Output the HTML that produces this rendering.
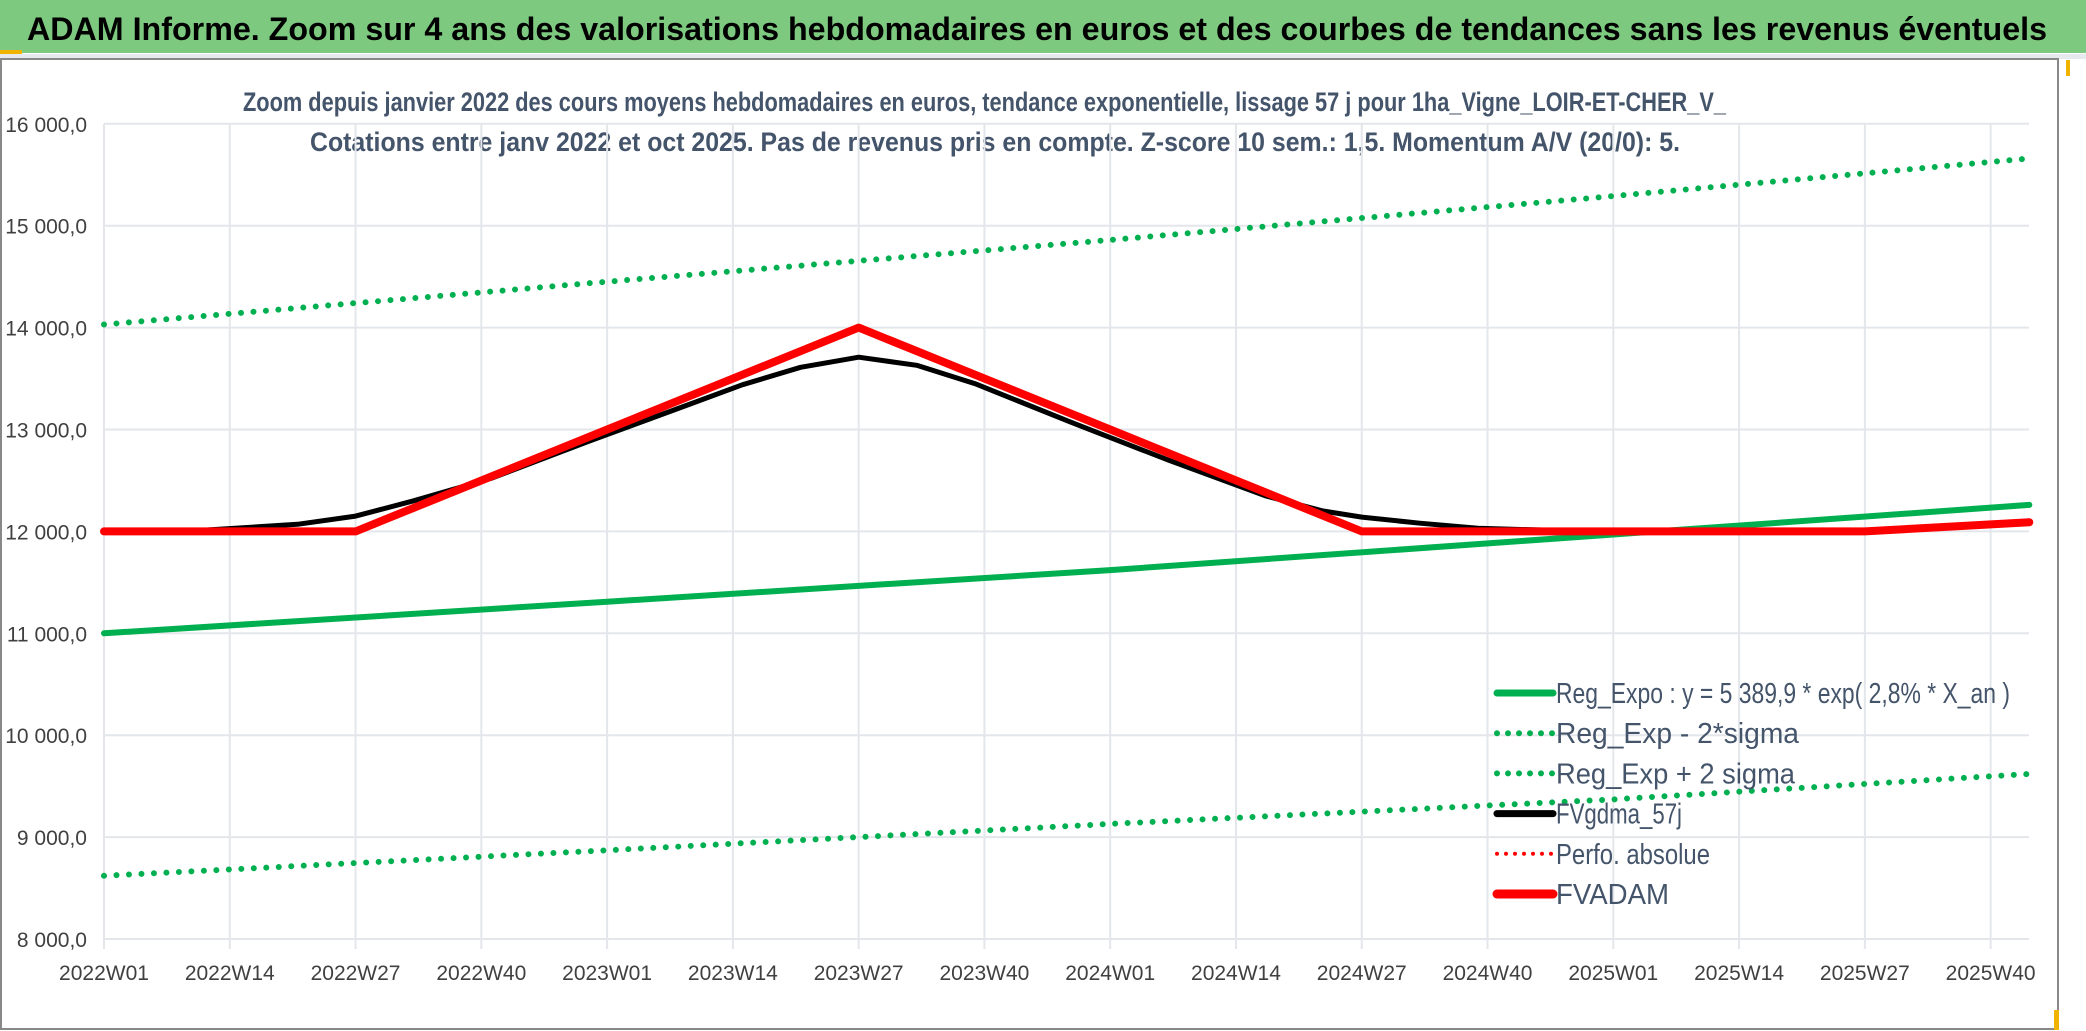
<!DOCTYPE html>
<html><head><meta charset="utf-8">
<style>
html,body{margin:0;padding:0;background:#fff;}
svg{display:block;font-family:"Liberation Sans",sans-serif;}
</style></head>
<body>
<svg id="chart" width="2086" height="1031" viewBox="0 0 2086 1031" xmlns="http://www.w3.org/2000/svg">
  <rect x="0" y="0" width="2086" height="53" fill="#7dc97f"/>
  <rect x="0" y="50" width="22" height="4" fill="#f0b400"/>
  <text x="27" y="40" font-size="32" font-weight="bold" fill="#000" textLength="2020" lengthAdjust="spacingAndGlyphs">ADAM Informe. Zoom sur 4 ans des valorisations hebdomadaires en euros et des courbes de tendances sans les revenus éventuels</text>
  <rect x="0" y="54" width="2086" height="5" fill="#e6e9ee"/>
  <rect x="1" y="59" width="2057" height="970" fill="none" stroke="#888" stroke-width="2"/>
  <rect x="2066" y="60" width="4" height="16" fill="#f0b400"/>
  <rect x="2054" y="1010" width="5" height="20" fill="#f0b400"/>
  <text x="243" y="111" font-size="27" font-weight="bold" fill="#44546a" textLength="1483" lengthAdjust="spacingAndGlyphs">Zoom depuis janvier 2022 des cours moyens hebdomadaires en euros, tendance exponentielle, lissage 57 j pour 1ha_Vigne_LOIR-ET-CHER_V_</text>
  <text x="310" y="151" font-size="27" font-weight="bold" fill="#44546a" textLength="1370" lengthAdjust="spacingAndGlyphs">Cotations entre janv 2022 et oct 2025. Pas de revenus pris en compte. Z-score 10 sem.: 1,5. Momentum A/V (20/0): 5.</text>
  <g id="grid"></g>
  <g id="series"></g>
  <g id="legend"></g>
</svg>
<script>
const yTicks = [8000, 9000, 10000, 11000, 12000, 13000, 14000, 15000, 16000];
const yTickLabels = ["8 000,0","9 000,0","10 000,0","11 000,0","12 000,0","13 000,0","14 000,0","15 000,0","16 000,0"];
const xTickLabels = ["2022W01","2022W14","2022W27","2022W40","2023W01","2023W14","2023W27","2023W40","2024W01","2024W14","2024W27","2024W40","2025W01","2025W14","2025W27","2025W40"];
const regWeeks = [0, 52, 104, 156, 199];
const regExpo = [11000, 11310, 11620, 11970, 12260];
const regUpper = [14030, 14450, 14860, 15290, 15660];
const regLower = [8620, 8870, 9130, 9370, 9620];
const adamWeeks = [0, 26, 78, 130, 182, 199];
const adamValues = [12000, 12000, 14000, 12000, 12000, 12090];
const gdmaWeeks = [0, 10, 20, 26, 32, 40, 50, 60, 66, 72, 78, 84, 90, 100, 110, 120, 126, 130, 136, 142, 150, 160, 182, 199];
const gdmaValues = [12000, 12010, 12070, 12150, 12300, 12520, 12880, 13230, 13440, 13610, 13710, 13630, 13450, 13070, 12700, 12350, 12200, 12140, 12080, 12030, 12010, 12000, 12000, 12090];

const NS = "http://www.w3.org/2000/svg";
const X0 = 104, WK = 9.675, Y0 = 939, PER1000 = 101.9, XEND = 2029;
function xw(w){ return X0 + w*WK; }
function yv(v){ return Y0 - (v-8000)/1000*PER1000; }
function mk(tag, attrs, parent){ const e=document.createElementNS(NS,tag); for(const k in attrs) e.setAttribute(k,attrs[k]); parent.appendChild(e); return e; }

const grid = document.getElementById('grid');
yTicks.forEach((v,i)=>{
  const l = mk('line',{x1:X0,x2:XEND,y1:yv(v),y2:yv(v),stroke:'#e3e6ea','stroke-width':2},grid);
  
  
  const t = mk('text',{x:87,y:yv(v)+8,'font-size':21,fill:'#404040','text-anchor':'end'},grid);
  
  
  t.textContent = yTickLabels[i];
});
xTickLabels.forEach((lab,i)=>{
  const x = xw(i*13);
  const l = mk('line',{x1:x,x2:x,y1:yv(16000),y2:Y0+10,stroke:'#e3e6ea','stroke-width':2},grid);
  
  
  const t = mk('text',{x:x,y:980,'font-size':21,fill:'#404040','text-anchor':'middle'},grid);
  
  
  t.textContent = lab;
});

const series = document.getElementById('series');
function pts(ws, vs){ return ws.map((w,i)=>xw(w).toFixed(1)+','+yv(vs[i]).toFixed(1)).join(' '); }
function line(name, ws, vs, color, width, dotted){
  const a = {points:pts(ws,vs),fill:'none',stroke:color,'stroke-width':width,'stroke-linejoin':'round','stroke-linecap':'round'};
  if(dotted){ a['stroke-dasharray']='0 12.5'; }
  const p = mk('polyline',a,series);
  
  
}
line('reg-exp-plus-2sigma-line', regWeeks, regUpper, '#00b050', 6, true);
line('reg-exp-minus-2sigma-line', regWeeks, regLower, '#00b050', 6, true);
line('reg-expo-line', regWeeks, regExpo, '#00b050', 6, false);
line('fvgdma-57j-line', gdmaWeeks, gdmaValues, '#000', 5, false);
line('fvadam-line', adamWeeks, adamValues, '#ff0000', 8, false);

const legend = document.getElementById('legend');
const legItems = [
  ['Reg_Expo : y = 5 389,9 * exp( 2,8% *  X_an )','#00b050',7,false,454],
  ['Reg_Exp - 2*sigma','#00b050',6,true,243],
  ['Reg_Exp + 2 sigma','#00b050',6,true,239],
  ['FVgdma_57j','#000',7,false,126],
  ['Perfo. absolue','#ff0000',4,true,154],
  ['FVADAM','#ff0000',9,false,113]
];
legItems.forEach((it,i)=>{
  const y = 693 + i*40.2;
  const a = {x1:1497,x2:1553,y1:y,y2:y,stroke:it[1],'stroke-width':it[2],'stroke-linecap':'round'};
  if(it[3]) a['stroke-dasharray']= it[2]<5 ? '0 9' : '0 11';
  const l = mk('line',a,legend);
  
  
  const t = mk('text',{x:1556,y:y+10,'font-size':29,fill:'#44546a',textLength:it[4],lengthAdjust:'spacingAndGlyphs'},legend);
  
  
  t.textContent = it[0];
});
</script>
</body></html>
